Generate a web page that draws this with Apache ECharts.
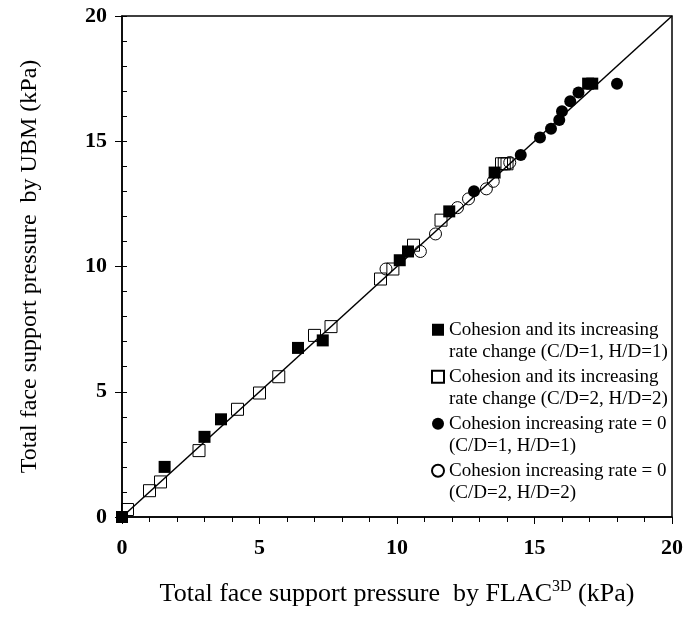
<!DOCTYPE html>
<html>
<head>
<meta charset="utf-8">
<script src="https://cdn.jsdelivr.net/npm/echarts@6/dist/echarts.min.js"></script>
<style>
  html, body { margin: 0; padding: 0; background: #fff; }
  #chart { width: 686px; height: 619px; }
</style>
</head>
<body>
<div id="chart"></div>
<script>
var chartDom = document.getElementById('chart');
var myChart = echarts.init(chartDom);
var option;

// [FLAC3D, UBM] pairs in kPa
let filledSquare = [
  [0, 0], [1.55, 2.0], [3.0, 3.2], [3.6, 3.9], [6.4, 6.75], [7.3, 7.05],
  [10.1, 10.25], [10.4, 10.6], [11.9, 12.2], [13.55, 13.75], [16.95, 17.3], [17.1, 17.3]
];
let openSquare = [
  [0.2, 0.3], [1.0, 1.05], [1.4, 1.4], [2.8, 2.65], [4.2, 4.3], [5.0, 4.95],
  [5.7, 5.6], [7.0, 7.25], [7.6, 7.6], [9.4, 9.5], [9.85, 9.9], [10.6, 10.85],
  [11.6, 11.85], [13.8, 14.1], [13.9, 14.1], [14.0, 14.1]
];
let filledCircle = [
  [12.8, 13.0], [14.5, 14.45], [15.2, 15.15], [15.6, 15.5], [15.9, 15.85],
  [16.0, 16.2], [16.3, 16.6], [16.6, 16.95], [18.0, 17.3]
];
let openCircle = [
  [9.6, 9.9], [10.85, 10.6], [11.4, 11.3], [12.2, 12.35], [12.6, 12.7],
  [13.25, 13.1], [13.5, 13.4], [14.1, 14.15]
];
let equalLine = [[0, 0], [20, 20]];

let legendNames = [
  'Cohesion and its increasing\nrate change (C/D=1, H/D=1)',
  'Cohesion and its increasing\nrate change (C/D=2, H/D=2)',
  'Cohesion increasing rate = 0\n(C/D=1, H/D=1)',
  'Cohesion increasing rate = 0\n(C/D=2, H/D=2)'
];

const serif = 'Liberation Serif';
const legendLine = 22.5;

option = {
  animation: false,
  textStyle: { fontFamily: serif },
  grid: {
    left: 122, right: 14, top: 16, bottom: 102,
    show: true, borderColor: '#000', borderWidth: 1.5
  },
  legend: {
    orient: 'vertical',
    left: 426, top: 291,
    itemWidth: 12, itemHeight: 12,
    itemGap: 47 - 3 * legendLine,
    // blank first line so the marker sits beside the first text line
    formatter: function (name) { return '\n' + name; },
    textStyle: {
      fontFamily: serif, fontSize: 19, color: '#000', lineHeight: legendLine
    },
    data: legendNames
  },
  xAxis: {
    type: 'value', min: 0, max: 20, interval: 5,
    name: '{a|Total face support pressure  by FLAC}{s|3D}{a| (kPa)}',
    nameLocation: 'middle', nameGap: 62,
    nameTextStyle: {
      rich: {
        a: { fontFamily: serif, fontSize: 26, color: '#000', lineHeight: 30 },
        s: { fontFamily: serif, fontSize: 16, color: '#000', verticalAlign: 'top', lineHeight: 30 }
      }
    },
    axisLine: { lineStyle: { color: '#000', width: 1.5 } },
    axisTick: { length: 7, lineStyle: { color: '#000', width: 1 } },
    minorTick: { show: true, splitNumber: 5, length: 5, lineStyle: { color: '#000', width: 1 } },
    axisLabel: { margin: 20, fontFamily: serif, fontSize: 22, fontWeight: 'bold', color: '#000' },
    splitLine: { show: false }
  },
  yAxis: [
    {
      type: 'value', min: 0, max: 20, interval: 5,
      name: 'Total face support pressure  by UBM (kPa)',
      nameLocation: 'middle', nameGap: 80,
      nameTextStyle: { fontFamily: serif, fontSize: 24, color: '#000' },
      axisLine: { lineStyle: { color: '#000', width: 1.5 } },
      axisTick: { length: 7, lineStyle: { color: '#000', width: 1 } },
      axisLabel: { margin: 15, fontFamily: serif, fontSize: 22, fontWeight: 'bold', color: '#000' },
      splitLine: { show: false }
    },
    {
      type: 'value', min: 0, max: 20, interval: 1, position: 'left',
      axisLine: { show: false },
      axisTick: { inside: true, length: 5, lineStyle: { color: '#000', width: 1 } },
      axisLabel: { show: false },
      splitLine: { show: false }
    }
  ],
  series: [
    {
      type: 'line', data: equalLine, symbol: 'none', z: 1,
      lineStyle: { color: '#000', width: 1.5 }, silent: true
    },
    {
      name: legendNames[0], type: 'scatter', symbol: 'rect', symbolSize: 12, z: 3,
      itemStyle: { color: '#000', opacity: 1 },
      data: filledSquare
    },
    {
      name: legendNames[1], type: 'scatter', symbol: 'rect', symbolSize: 12, z: 2,
      itemStyle: { color: 'rgba(0,0,0,0)', borderColor: '#000', borderWidth: 1, opacity: 1 },
      data: openSquare
    },
    {
      name: legendNames[2], type: 'scatter', symbol: 'circle', symbolSize: 12, z: 3,
      itemStyle: { color: '#000', opacity: 1 },
      data: filledCircle
    },
    {
      name: legendNames[3], type: 'scatter', symbol: 'circle', symbolSize: 12, z: 2,
      itemStyle: { color: 'rgba(0,0,0,0)', borderColor: '#000', borderWidth: 1, opacity: 1 },
      data: openCircle
    }
  ]
};

option && myChart.setOption(option);
</script>
</body>
</html>
